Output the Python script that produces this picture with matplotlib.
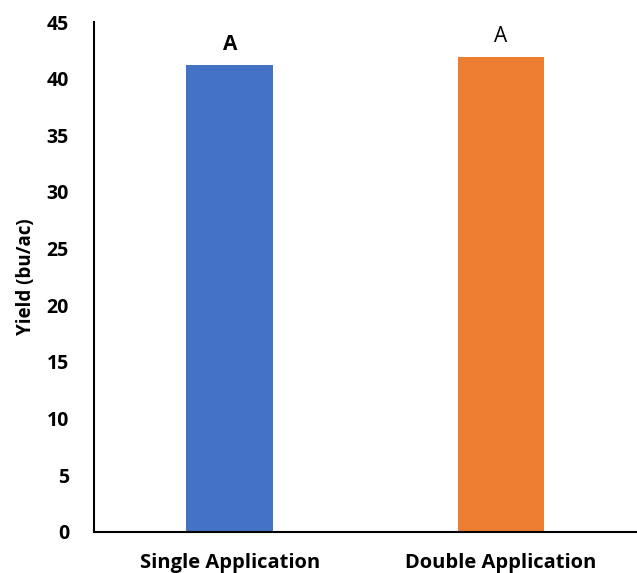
import matplotlib.pyplot as plt

categories = ['Single Application', 'Double Application']
yields = [41.2, 41.9]
letters = ['A', 'A']
colors = ['#4472C4', '#ED7D31']

plt.rcParams['font.family'] = ['Open Sans', 'DejaVu Sans']

fig = plt.figure(figsize=(6.37, 5.73), dpi=100)
ax = fig.add_axes([0.1476, 0.0716, 0.852, 0.89])

x = range(len(categories))
ax.bar(x, yields, width=0.32, color=colors)

# significance letters: first one bold, second regular as in the original
ax.text(0, yields[0] + 0.9, letters[0], ha='center', va='bottom', fontsize=15, fontweight='bold')
ax.text(1, yields[1] + 0.9, letters[1], ha='center', va='bottom', fontsize=15)

ax.set_xlim(-0.5, 1.5)
ax.set_ylim(0, 45)
ax.set_yticks(range(0, 50, 5))
ax.set_xticks(list(x))
ax.set_xticklabels(categories, fontsize=14.5, fontweight='bold')
for lab in ax.get_yticklabels():
    lab.set_fontsize(14)
    lab.set_fontweight('bold')
ax.tick_params(length=0, pad=18, axis='y')
ax.tick_params(length=0, pad=15, axis='x')
ax.set_ylabel('Yield (bu/ac)', fontsize=13.5, fontweight='bold', labelpad=8)

ax.spines['top'].set_visible(False)
ax.spines['right'].set_visible(False)
ax.spines['left'].set_linewidth(1.5)
ax.spines['bottom'].set_linewidth(1.5)

fig.savefig('out.png', dpi=100)
